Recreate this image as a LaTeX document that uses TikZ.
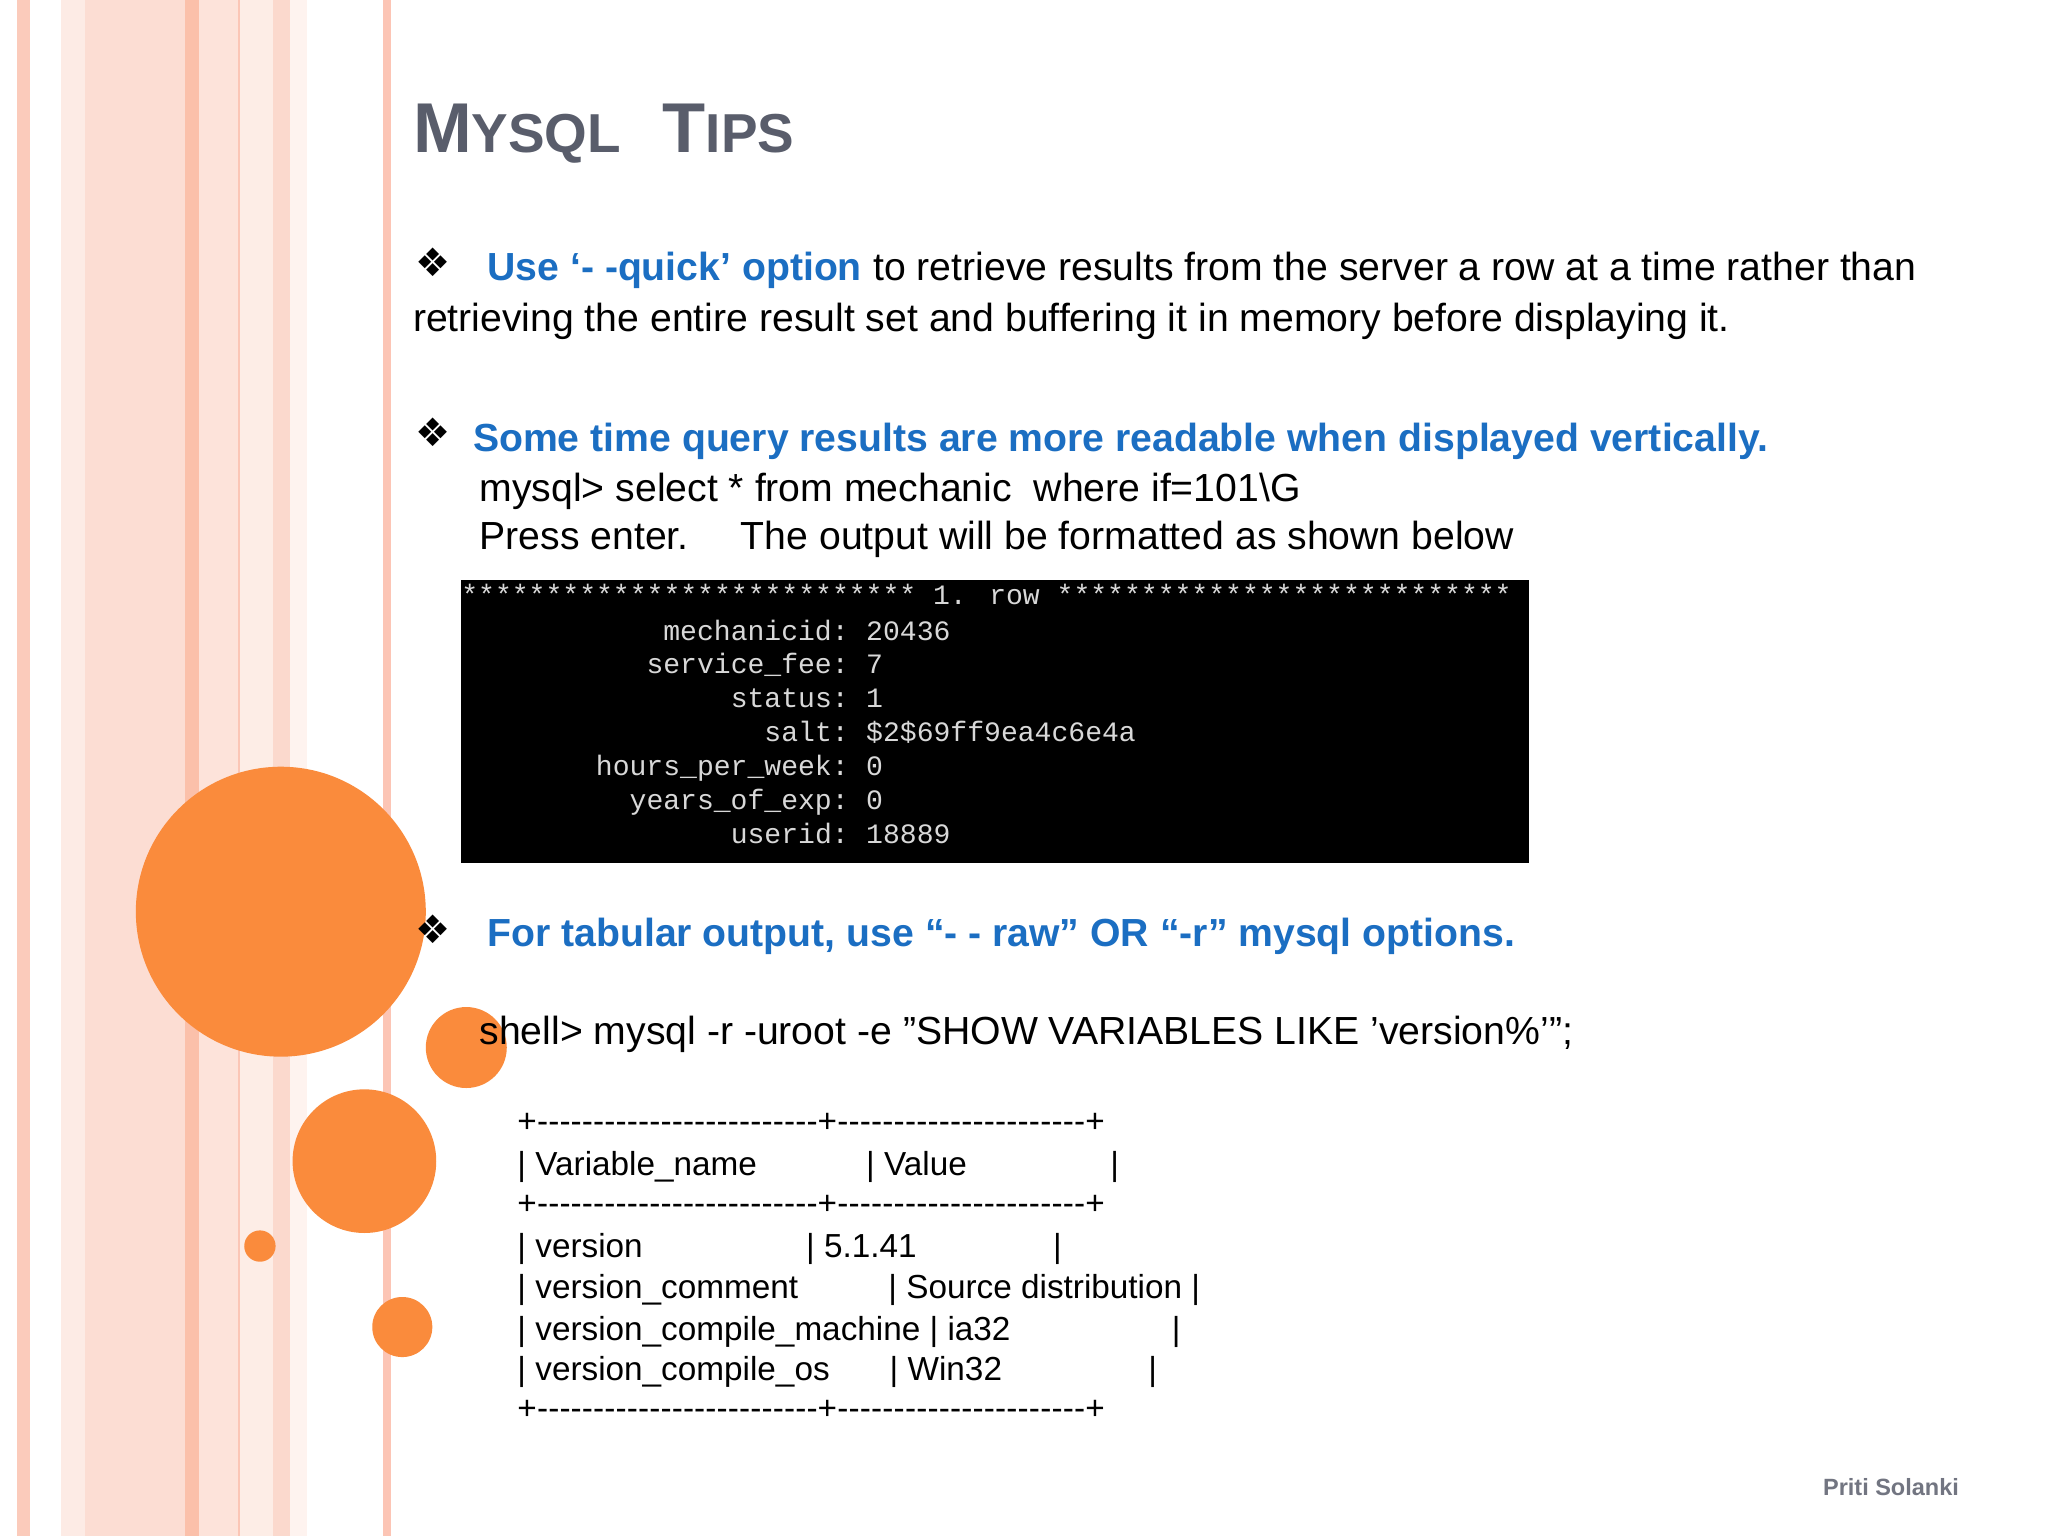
\documentclass[tikz,border=0pt]{standalone}
\usepackage{fontspec}
\setmainfont{Liberation Sans}
\newfontfamily\djfont{DejaVu Sans}
\newfontfamily\monofnt{Liberation Mono}
\definecolor{blu}{HTML}{1B6EC2}
\definecolor{tit}{HTML}{595D6B}
\definecolor{org}{HTML}{FA8B3C}
\definecolor{term}{HTML}{D8D8D8}
\definecolor{sa}{HTML}{FBCBBB}
\definecolor{sb}{HTML}{FDEBE5}
\definecolor{sc}{HTML}{FCDDD3}
\definecolor{sd}{HTML}{FBC0AA}
\definecolor{se}{HTML}{FDE3DA}
\definecolor{sf}{HTML}{FBC6B6}
\definecolor{sg}{HTML}{FDEDE6}
\definecolor{sh}{HTML}{FBD9CD}
\definecolor{si}{HTML}{FEF3EF}
\definecolor{sj}{HTML}{FCC5B5}
\tikzset{
 body/.style={anchor=base west,inner sep=0,font=\fontsize{30}{34}\selectfont},
 bl/.style={body,text=blu,font=\fontsize{30}{34}\selectfont\bfseries},
 bul/.style={anchor=base west,inner sep=0,font=\djfont\fontsize{30}{34}\selectfont},
 tm/.style={inner sep=0,text=term,font=\monofnt\fontsize{21.5}{24}\selectfont},
 tb/.style={anchor=base west,inner sep=0,font=\fontsize{25.5}{30}\selectfont},
 circ/.style={fill=org}
}
\newcommand{\dashrow}[1]{\makebox[#1]{\xleaders\hbox{-}\hfill}}
\begin{document}
\begin{tikzpicture}[x=1pt,y=-1pt]
\useasboundingbox (0,0) rectangle (1568,1176);
\fill[white] (0,0) rectangle (1568,1176);
% stripes
\fill[sa] (13,0) rectangle (23,1176);
\fill[sb] (47,0) rectangle (65,1176);
\fill[sc] (65,0) rectangle (142,1176);
\fill[sd] (142,0) rectangle (152,1176);
\fill[se] (152,0) rectangle (182,1176);
\fill[sf] (182,0) rectangle (184,1176);
\fill[sg] (184,0) rectangle (209,1176);
\fill[sh] (209,0) rectangle (222,1176);
\fill[si] (222,0) rectangle (235,1176);
\fill[sj] (293,0) rectangle (299,1176);
% circles
\fill[circ] (215,698) circle (111);
\fill[circ] (357,802) circle (31);
\fill[circ] (279,889) circle (55);
\fill[circ] (199,954) circle (12);
\fill[circ] (308,1016) circle (23);
% title
\node[anchor=base west,inner sep=0,text=tit,font=\fontsize{54}{60}\selectfont\bfseries] (title) at (316,117) {M{\fontsize{42}{44}\selectfont YSQL}\hspace{32pt}T{\fontsize{42}{44}\selectfont IPS}};
% bullet 1
\node[bul] (b1) at (318,212) {❖};
\node[bl] (t1a) at (373,215) {Use ‘- -quick’ option};
\node[body] (t1b) at (t1a.base east) {\ to retrieve results from the server a row at a time rather than};
\node[body] (t1c) at (316,254) {retrieving the entire result set and buffering it in memory before displaying it.};
% bullet 2
\node[bul] (b2) at (318,342) {❖};
\node[bl] (t2) at (362,346) {Some time query results are more readable when displayed vertically.};
\node[body] (t3) at (367,384) {mysql> select * from mechanic\ \ where if=101\textbackslash G};
\node[body] (t4) at (367,421) {Press enter.\hspace{40pt}The output will be formatted as shown below};
% terminal
\fill[black] (353,444) rectangle (1171,661);
\node[tm,anchor=base west] (hd) at (353,463) {*************************** 1. row ***************************};
\foreach \n/\k/\v/\y in {a/mechanicid/20436/490, b/service\_fee/7/516, c/status/1/542, d/salt/\$2\$69ff9ea4c6e4a/568, e/hours\_per\_week/0/594, f/years\_of\_exp/0/620, g/userid/18889/646}{
 \node[tm,anchor=base east] (k\n) at (650,\y) {\k:};
 \node[tm,anchor=base west] (v\n) at (663,\y) {\v};
}
% bullet 3
\node[bul] (b3) at (318,722) {❖};
\node[bl] (t5) at (373,725) {For tabular output, use “- - raw” OR “-r” mysql options.};
\node[body] (t6) at (367,800) {shell> mysql -r -uroot -e \symbol{34}SHOW VARIABLES LIKE \symbol{39}version\%\symbol{39}\symbol{34};};
% table
\foreach \y/\n in {867/s1,930/s2,1087/s3}{
 \node[tb] (\n) at (396,\y) {+\dashrow{215pt}+\dashrow{190pt}+};
}
\node[tb] (r1a) at (396,900) {| Variable\_name};
\node[tb] (r1b) at (663,900) {| Value};
\node[tb] (r1c) at (850,900) {|};
\node[tb] (r2a) at (396,963) {| version};
\node[tb] (r2b) at (617,963) {| 5.1.41};
\node[tb] (r2c) at (806,963) {|};
\node[tb] (r3a) at (396,994) {| version\_comment};
\node[tb] (r3b) at (680,994) {| Source distribution |};
\node[tb] (r4a) at (396,1026) {| version\_compile\_machine | ia32};
\node[tb] (r4c) at (897,1026) {|};
\node[tb] (r5a) at (396,1057) {| version\_compile\_os};
\node[tb] (r5b) at (681,1057) {| Win32};
\node[tb] (r5c) at (879,1057) {|};
% footer
\node[anchor=base east,inner sep=0,text=tit!85,font=\fontsize{18}{20}\selectfont\bfseries] (ft) at (1500,1145) {Priti Solanki};
\end{tikzpicture}
\end{document}
